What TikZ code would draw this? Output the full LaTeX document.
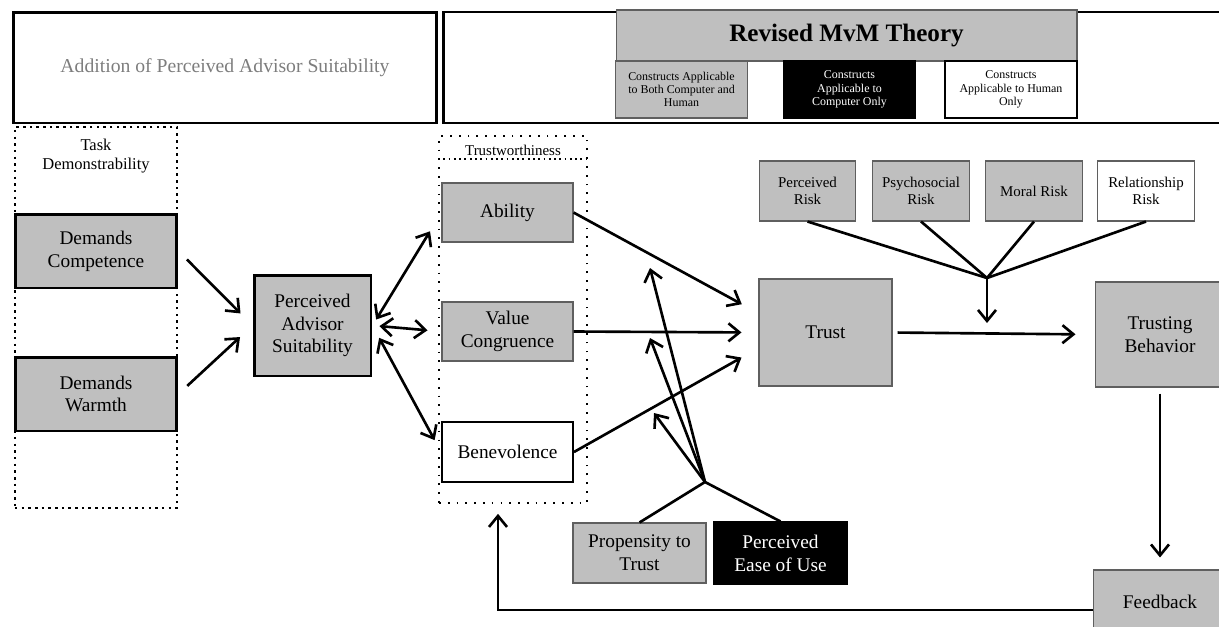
\documentclass[tikz,border=0pt]{standalone}
\usepackage{fontspec}
\setmainfont{Liberation Serif}
\usetikzlibrary{arrows.meta, calc}
\definecolor{boxgray}{RGB}{191,191,191}
\definecolor{rahmengray}{RGB}{95,95,95}
\definecolor{textgray}{RGB}{125,125,125}
\tikzset{
    kasten/.style={draw=rahmengray, line width=0.6pt, fill=boxgray, align=center, inner sep=1pt, font=\fontsize{11}{13}\selectfont},
    dickkasten/.style={kasten, draw=black, line width=1.7pt},
    risiko/.style={kasten, minimum width=1.93cm, minimum height=1.2cm, font=\fontsize{8.5}{10}\selectfont},
    legende/.style={kasten, minimum width=2.63cm, minimum height=1.14cm, font=\fontsize{6.8}{7.6}\selectfont},
    punktrahmen/.style={draw, line width=1.4pt, dash pattern=on 1.4pt off 2.4pt},
    linie/.style={line width=1.5pt},
    pfeil/.style={linie, -{Straight Barb[length=2.2mm,width=3.6mm]}},
    doppelpfeil/.style={linie, {Straight Barb[length=2.2mm,width=3.6mm]}-{Straight Barb[length=2.2mm,width=3.6mm]}}
}

\begin{document}
\begin{tikzpicture}[x=0.02cm, y=-0.02cm]
  \useasboundingbox (0,0) rectangle (1219,626);

  % Kopfzeile links
  \node[draw, line width=1.7pt, minimum width=8.48cm, minimum height=2.22cm, text=textgray,
        font=\fontsize{11.2}{13}\selectfont] (zusatz) at (225,67.5) {Addition of Perceived Advisor Suitability};

  % Kopfzeile rechts
  \draw[line width=1.7pt] (1225,12) -- (443,12) -- (443,123) -- (1225,123);
  \node[kasten, minimum width=9.22cm, minimum height=1.02cm,
        font=\fontsize{14.3}{16}\selectfont\bfseries] (titel) at (846.5,35.5) {Revised MvM Theory};
  \node[legende] (legbeide) at (681.5,89.5) {Constructs Applicable\\to Both Computer and\\Human};
  \node[legende, fill=black, draw=black, text=white] (legcomp) at (849.5,89.5) {Constructs\\Applicable to\\Computer Only};
  \node[legende, fill=white, draw=black, line width=1.1pt] (legmensch) at (1011,89.5) {Constructs\\Applicable to Human\\Only};

  % Task Demonstrability
  \node[punktrahmen, minimum width=3.24cm, minimum height=7.62cm] (taskrahmen) at (96,317.5) {};
  \node[align=center, font=\fontsize{9.4}{10.3}\selectfont] (tasktext) at (96,156) {Task\\Demonstrability};
  \node[dickkasten, minimum width=3.24cm, minimum height=1.48cm] (kompetenz) at (96,251) {Demands\\Competence};
  \node[dickkasten, minimum width=3.24cm, minimum height=1.48cm] (waerme) at (96,394) {Demands\\Warmth};
  \node[dickkasten, minimum width=2.34cm, minimum height=2.02cm] (pas) at (312.5,325.5) {Perceived\\Advisor\\Suitability};

  % Trustworthiness
  \node[draw, line width=1pt, dash pattern=on 1pt off 4pt, minimum width=2.96cm, minimum height=7.34cm] (twrahmen) at (513,319.5) {};
  \draw[line width=1pt, dash pattern=on 1pt off 2pt]
    ([yshift=-0.48cm]twrahmen.north west) -- ([yshift=-0.48cm]twrahmen.north east);
  \node[font=\fontsize{8.5}{10}\selectfont] (twtext) at (513,150) {Trustworthiness};
  \node[kasten, minimum width=2.62cm, minimum height=1.18cm] (ability) at (507.5,212.5) {Ability};
  \node[kasten, minimum width=2.62cm, minimum height=1.18cm] (valuec) at (507.5,331.5) {Value\\Congruence};
  \node[kasten, fill=white, draw=black, line width=1.1pt, minimum width=2.62cm, minimum height=1.2cm] (benev) at (507.5,452) {Benevolence};

  % Trust und Risiken
  \node[kasten, minimum width=2.66cm, minimum height=2.14cm] (trust) at (825.5,332.5) {Trust};
  \node[risiko] (prisk) at (807.5,191) {Perceived\\Risk};
  \node[risiko] (psrisk) at (921,191) {Psychosocial\\Risk};
  \node[risiko] (mrisk) at (1034,191) {Moral Risk};
  \node[risiko, fill=white] (rrisk) at (1146,191) {Relationship\\Risk};
  \node[kasten, minimum width=2.6cm, minimum height=2.1cm] (tbeh) at (1160,334.5) {Trusting\\Behavior};
  \node[kasten, minimum width=2.66cm, minimum height=1.28cm] (feedback) at (1160,602) {Feedback};

  % Propensity / Ease of Use
  \node[kasten, minimum width=2.66cm, minimum height=1.2cm] (propen) at (639.5,553) {Propensity to\\Trust};
  \node[kasten, fill=black, draw=black, text=white, minimum width=2.66cm, minimum height=1.24cm] (peou) at (780.5,553) {Perceived\\Ease of Use};

  % Hilfspunkte
  \coordinate (propjoin) at (705,482);
  \coordinate (modA) at (650,268);
  \coordinate (modB) at (650,338);
  \coordinate (modC) at (654,413);
  \coordinate (riskjoin) at (987,278);
  \coordinate (riskziel) at (987,323);

  % Pfeile links
  \draw[pfeil, shorten <=2.4mm, shorten >=3.4mm] (kompetenz.east) -- (pas.west);
  \draw[pfeil, shorten <=2.4mm, shorten >=3.4mm] (waerme.east) -- (pas.west);
  \draw[doppelpfeil, shorten <=1.4mm, shorten >=4.4mm] (pas.east) -- (ability.west);
  \draw[doppelpfeil, shorten <=1.4mm, shorten >=2.8mm] (pas.east) -- (valuec.west);
  \draw[doppelpfeil, shorten <=2.8mm, shorten >=2.7mm] (pas.east) -- (benev.west);

  % Pfeile zu Trust
  \draw[pfeil, shorten >=3.8mm] (ability.east) -- (trust.164);
  \draw[pfeil, shorten >=3.4mm] (valuec.east) -- (trust.west);
  \draw[pfeil, shorten >=3.9mm] (benev.east) -- (trust.193);

  % Moderatoren
  \draw[linie] (propen.north) -- (propjoin) -- (peou.north);
  \draw[pfeil] (propjoin) -- (modA);
  \draw[pfeil] (propjoin) -- (modB);
  \draw[pfeil] (propjoin) -- (modC);
  \foreach \r in {prisk, psrisk, mrisk, rrisk}
    \draw[linie] (\r.south) -- (riskjoin);
  \draw[pfeil] (riskjoin) -- (riskziel);

  % Verhalten und Feedback
  \draw[pfeil, shorten <=0.1cm, shorten >=3.8mm] (trust.east) -- (tbeh.west);
  \draw[pfeil] ([yshift=-0.12cm]tbeh.south) -- ([yshift=0.24cm]feedback.north);
  \draw[pfeil] ([yshift=-0.16cm]feedback.west) -| ([xshift=-0.3cm,yshift=-0.2cm]twrahmen.south);

\end{tikzpicture}
\end{document}
